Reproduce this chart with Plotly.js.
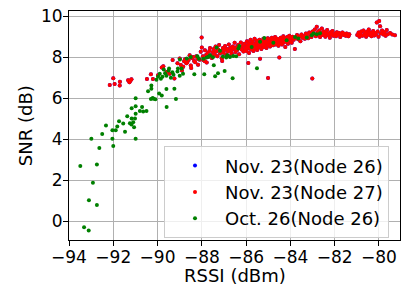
<!DOCTYPE html>
<html><head><meta charset="utf-8">
<script src="https://cdn.plot.ly/plotly-3.0.1.min.js"></script>
<style>html,body{margin:0;padding:0;background:#fff;}#chart{width:401px;height:286px;}</style>
</head><body><div id="chart"></div>
<script>
// Series: [RSSI (dBm), SNR (dB)]
const nov23Node27 = [
[-92.16,6.65],[-91.94,6.70],[-92.00,6.98],[-91.70,6.81],[-91.71,6.62],[-91.33,6.88],[-91.22,6.86],[-91.27,6.78],[-91.18,6.93],
[-90.48,6.94],[-90.30,7.17],[-90.21,6.94],[-89.98,7.12],[-89.81,7.50],[-89.74,7.56],[-89.59,7.28],[-89.32,7.87],[-89.24,6.96],[-89.45,7.20],[-89.10,7.70],
[-89.00,7.94],[-88.95,7.62],[-88.90,7.35],[-88.84,7.53],[-88.80,7.80],[-88.76,7.90],[-88.70,7.70],[-88.66,7.74],[-88.60,7.86],[-88.55,8.10],
[-88.50,7.60],[-88.48,7.48],[-88.45,7.96],[-88.39,8.01],[-88.35,7.82],[-88.30,7.75],[-88.25,8.05],[-88.20,7.92],[-88.17,7.63],[-88.10,7.88],
[-88.05,8.26],[-88.01,8.96],[-88.00,8.47],
[-87.95,8.05],[-87.92,7.85],[-87.86,8.34],[-87.86,7.80],[-87.80,8.12],[-87.78,7.74],[-87.74,8.20],[-87.70,8.02],[-87.66,8.30],[-87.63,8.45],
[-87.58,8.10],[-87.55,7.96],[-87.50,8.25],[-87.46,8.40],[-87.42,8.12],[-87.38,8.52],[-87.35,8.28],[-87.30,8.05],[-87.26,8.38],[-87.22,8.60],
[-87.18,8.18],[-87.14,8.30],[-87.10,7.95],[-87.08,7.82],[-87.05,8.45],[-87.02,8.22],
[-86.98,8.35],[-86.95,8.55],[-86.90,8.12],[-86.86,8.40],[-86.82,8.28],[-86.78,8.62],[-86.75,8.05],[-86.72,8.45],[-86.68,8.30],[-86.65,8.18],
[-86.60,8.52],[-86.56,8.40],[-86.52,8.70],[-86.48,8.25],[-86.44,8.48],[-86.40,8.35],[-86.36,8.60],[-86.32,8.15],[-86.28,8.45],[-86.24,8.72],
[-86.20,8.38],[-86.16,8.55],[-86.12,8.28],[-86.08,8.65],[-86.04,8.42],[-86.00,8.50],
[-85.98,8.30],[-85.96,8.78],[-85.93,8.60],[-85.90,7.72],[-85.90,8.45],[-85.87,8.20],[-85.85,8.68],[-85.82,8.52],[-85.80,8.85],[-85.78,8.38],
[-85.75,8.62],[-85.72,8.48],[-85.70,8.75],[-85.67,8.30],[-85.65,8.56],[-85.62,8.90],[-85.60,8.42],[-85.57,8.66],[-85.55,8.50],[-85.52,8.80],
[-85.50,8.35],[-85.47,8.60],[-85.45,8.72],[-85.42,8.48],[-85.40,8.85],[-85.37,7.93],[-85.37,8.55],[-85.34,8.68],[-85.31,8.40],[-85.28,8.78],
[-85.25,8.62],[-85.22,8.90],[-85.20,8.50],[-85.17,8.72],[-85.14,8.58],[-85.11,8.84],[-85.08,8.45],[-85.05,8.70],[-85.01,6.99],[-85.02,8.92],
[-84.98,8.60],[-84.95,8.78],[-84.92,8.52],[-84.90,8.88],[-84.87,8.66],[-84.84,8.95],[-84.81,8.72],[-84.78,8.58],[-84.75,8.85],[-84.72,8.70],
[-84.69,8.98],[-84.66,8.62],[-84.63,8.80],[-84.60,8.90],[-84.57,8.74],[-84.54,8.56],[-84.50,7.98],[-84.50,8.86],[-84.47,8.68],[-84.44,8.95],
[-84.41,8.78],[-84.38,8.62],[-84.35,8.88],[-84.32,9.02],[-84.29,8.72],[-84.26,8.84],[-84.23,8.50],[-84.20,8.92],[-84.17,8.76],[-84.14,8.98],
[-84.11,8.66],[-84.08,8.86],[-84.05,9.05],[-84.02,8.80],
[-83.98,8.92],[-83.94,8.70],[-83.90,9.00],[-83.85,8.85],[-83.80,8.40],[-83.76,8.95],[-83.70,9.08],[-83.65,8.88],[-83.60,9.00],[-83.55,8.78],
[-83.50,9.10],[-83.45,8.95],[-83.40,9.02],[-83.35,8.90],[-83.30,9.15],[-83.25,9.05],[-83.20,8.92],[-83.15,9.20],[-83.10,9.08],[-83.01,6.96],
[-83.05,8.98],[-83.00,9.25],
[-82.95,9.12],[-82.90,9.35],[-82.85,9.02],[-82.81,9.48],[-82.78,9.20],[-82.74,9.10],[-82.70,9.30],[-82.66,8.98],[-82.62,9.18],[-82.58,9.40],
[-82.54,9.08],[-82.50,9.25],[-82.46,9.12],[-82.42,9.00],[-82.38,9.20],[-82.34,9.32],[-82.30,9.08],[-82.26,9.15],[-82.22,8.95],[-82.18,9.22],
[-82.14,9.10],[-82.10,9.28],[-82.06,9.05],
[-81.98,9.15],[-81.94,9.02],[-81.90,9.22],[-81.85,9.10],[-81.80,9.18],[-81.75,8.98],[-81.70,9.12],[-81.65,9.20],[-81.60,9.08],[-81.55,9.14],
[-81.50,9.05],[-81.46,9.15],[-81.42,9.10],[-81.38,9.02],[-81.34,9.12],
[-80.98,9.08],[-80.92,9.20],[-80.88,9.00],[-80.84,9.14],[-80.80,9.25],[-80.75,9.05],[-80.70,9.30],[-80.66,9.10],[-80.62,9.18],[-80.58,9.00],
[-80.54,9.24],[-80.50,9.12],[-80.46,9.35],[-80.42,9.08],[-80.38,9.20],[-80.34,9.02],[-80.30,9.15],[-80.26,9.28],[-80.22,9.06],[-80.18,9.18],
[-80.10,9.69],[-80.14,9.10],[-80.06,9.25],[-80.02,9.00],[-79.99,9.76],[-79.95,9.51],
[-79.92,9.15],[-79.86,9.30],[-79.80,9.10],[-79.75,9.22],[-79.70,9.05],[-79.65,9.32],[-79.60,9.12],[-79.50,9.18],[-79.40,9.10],[-79.28,9.07]
];
// Nov. 23 (Node 26) lies under the Node 27 points in the picture
const nov23Node26 = nov23Node27;
const oct26Node26 = [
[-93.49,2.70],[-92.74,2.78],[-92.92,1.89],[-93.10,1.04],[-92.74,0.80],[-93.32,-0.28],[-93.11,-0.44],[-92.63,3.58],[-92.00,3.68],
[-92.04,4.03],[-92.99,4.03],[-90.99,4.03],[-92.50,4.26],[-92.33,4.67],[-92.04,4.44],[-91.89,4.44],[-91.82,4.63],[-91.74,4.88],[-91.55,4.77],
[-91.47,4.37],[-91.25,4.78],[-91.18,4.72],[-91.10,4.83],[-91.06,4.59],[-91.17,5.01],[-91.02,5.01],[-90.99,5.25],[-91.37,5.12],[-90.80,5.38],
[-90.65,5.36],[-90.50,5.38],[-90.70,5.58],[-90.99,5.61],[-91.17,5.51],[-89.59,5.58],[-90.99,6.00],[-90.30,5.97],[-90.18,5.98],[-90.10,5.95],
[-90.22,6.02],[-89.17,5.97],[-90.43,6.34],[-90.28,6.62],[-90.28,6.47],[-89.93,6.23],[-89.81,6.13],[-89.60,6.45],[-89.24,6.47],
[-90.05,6.90],[-89.98,7.05],[-89.90,7.20],[-89.85,6.95],[-89.78,7.05],[-89.72,7.40],[-89.66,7.22],[-89.60,7.10],[-89.50,7.35],[-89.48,7.45],
[-89.40,7.00],[-89.33,7.27],[-89.28,7.15],[-89.10,7.30],[-89.08,7.45],[-89.00,7.10],[-88.92,7.45],[-88.85,7.20],
[-88.99,7.89],[-88.68,7.94],[-88.50,8.01],[-88.34,7.17],[-87.89,7.17],[-87.46,7.61],[-87.40,7.07],[-87.27,7.22],[-86.97,7.33],[-86.61,6.98],
[-85.51,7.46],[-88.13,7.93],[-87.93,7.93],[-87.78,7.98],[-87.63,8.10],[-87.33,8.47],[-87.18,8.31],[-86.73,8.01],[-86.58,8.06],[-86.35,8.42],
[-86.31,8.54],[-88.20,8.05],[-87.70,8.02],[-87.50,8.00],[-87.05,8.04],[-86.90,7.98],[-86.85,8.10],[-86.45,8.05],
[-85.75,8.50],[-85.37,8.75],[-85.18,8.94],[-84.77,8.70],[-84.17,8.83],[-83.79,8.99],[-83.64,8.91],[-83.26,8.96],[-83.04,9.07],[-82.96,9.15],
[-82.81,9.12],[-82.66,9.17]
];
const seriesNames = ['Nov. 23(Node 26)', 'Nov. 23(Node 27)', 'Oct. 26(Node 26)'];
const seriesColors = ['#0000ff', '#ff0000', '#008000'];
const seriesData = [nov23Node26, nov23Node27, oct26Node26];
const xTicks = [-94, -92, -90, -88, -86, -84, -82, -80];
const yTicks = [0, 2, 4, 6, 8, 10];
const xTitle = 'RSSI (dBm)';
const yTitle = 'SNR (dB)';

const traces = seriesData.map((d, i) => ({
  type: 'scatter', mode: 'markers', name: seriesNames[i],
  x: d.map(p => p[0]), y: d.map(p => p[1]),
  marker: {color: seriesColors[i], size: 4, line: {width: 0}},
  legendgroup: 'g' + i, showlegend: true
}));

const fam = 'DejaVu Sans, sans-serif';
const axisCommon = {
  showline: true, mirror: true, linecolor: '#000', linewidth: 1,
  ticks: 'outside', ticklen: 5, tickwidth: 1, tickcolor: '#000',
  showgrid: true, gridcolor: '#b0b0b0', gridwidth: 1, zeroline: false,
  ticklabelstandoff: -3,
  tickfont: {family: fam, size: 17, color: '#000'}
};
const layout = {
  width: 401, height: 286,
  margin: {l: 69, r: 1, t: 11, b: 46, pad: 0},
  paper_bgcolor: '#fff', plot_bgcolor: '#fff',
  font: {family: fam, color: '#000'},
  xaxis: Object.assign({}, axisCommon, {
    range: [-94, -79.05], tickvals: xTicks, ticktext: xTicks.map(v => (v < 0 ? '\u2212' : '') + Math.abs(v))
  }),
  yaxis: Object.assign({}, axisCommon, {
    range: [-0.9, 10.25], tickvals: yTicks, ticktext: yTicks.map(String)
  }),
  annotations: [
    {text: xTitle, xref: 'paper', yref: 'paper', x: 0.5, y: -0.157, xanchor: 'center', yanchor: 'middle',
     showarrow: false, font: {family: fam, size: 18, color: '#000'}},
    {text: yTitle, xref: 'paper', yref: 'paper', x: -0.131, y: 0.5, xanchor: 'center', yanchor: 'middle',
     textangle: -90, showarrow: false, font: {family: fam, size: 18, color: '#000'}}
  ],
  showlegend: true,
  legend: {
    x: 0.287, y: 0.409, xanchor: 'left', yanchor: 'top',
    bgcolor: 'rgba(255,255,255,0.8)', bordercolor: '#cccccc', borderwidth: 1,
    font: {family: fam, size: 18, color: '#000'},
    tracegroupgap: 0, itemwidth: 50
  }
};
Plotly.newPlot('chart', traces, layout, {displayModeBar: false, staticPlot: true});
</script>
</body></html>
